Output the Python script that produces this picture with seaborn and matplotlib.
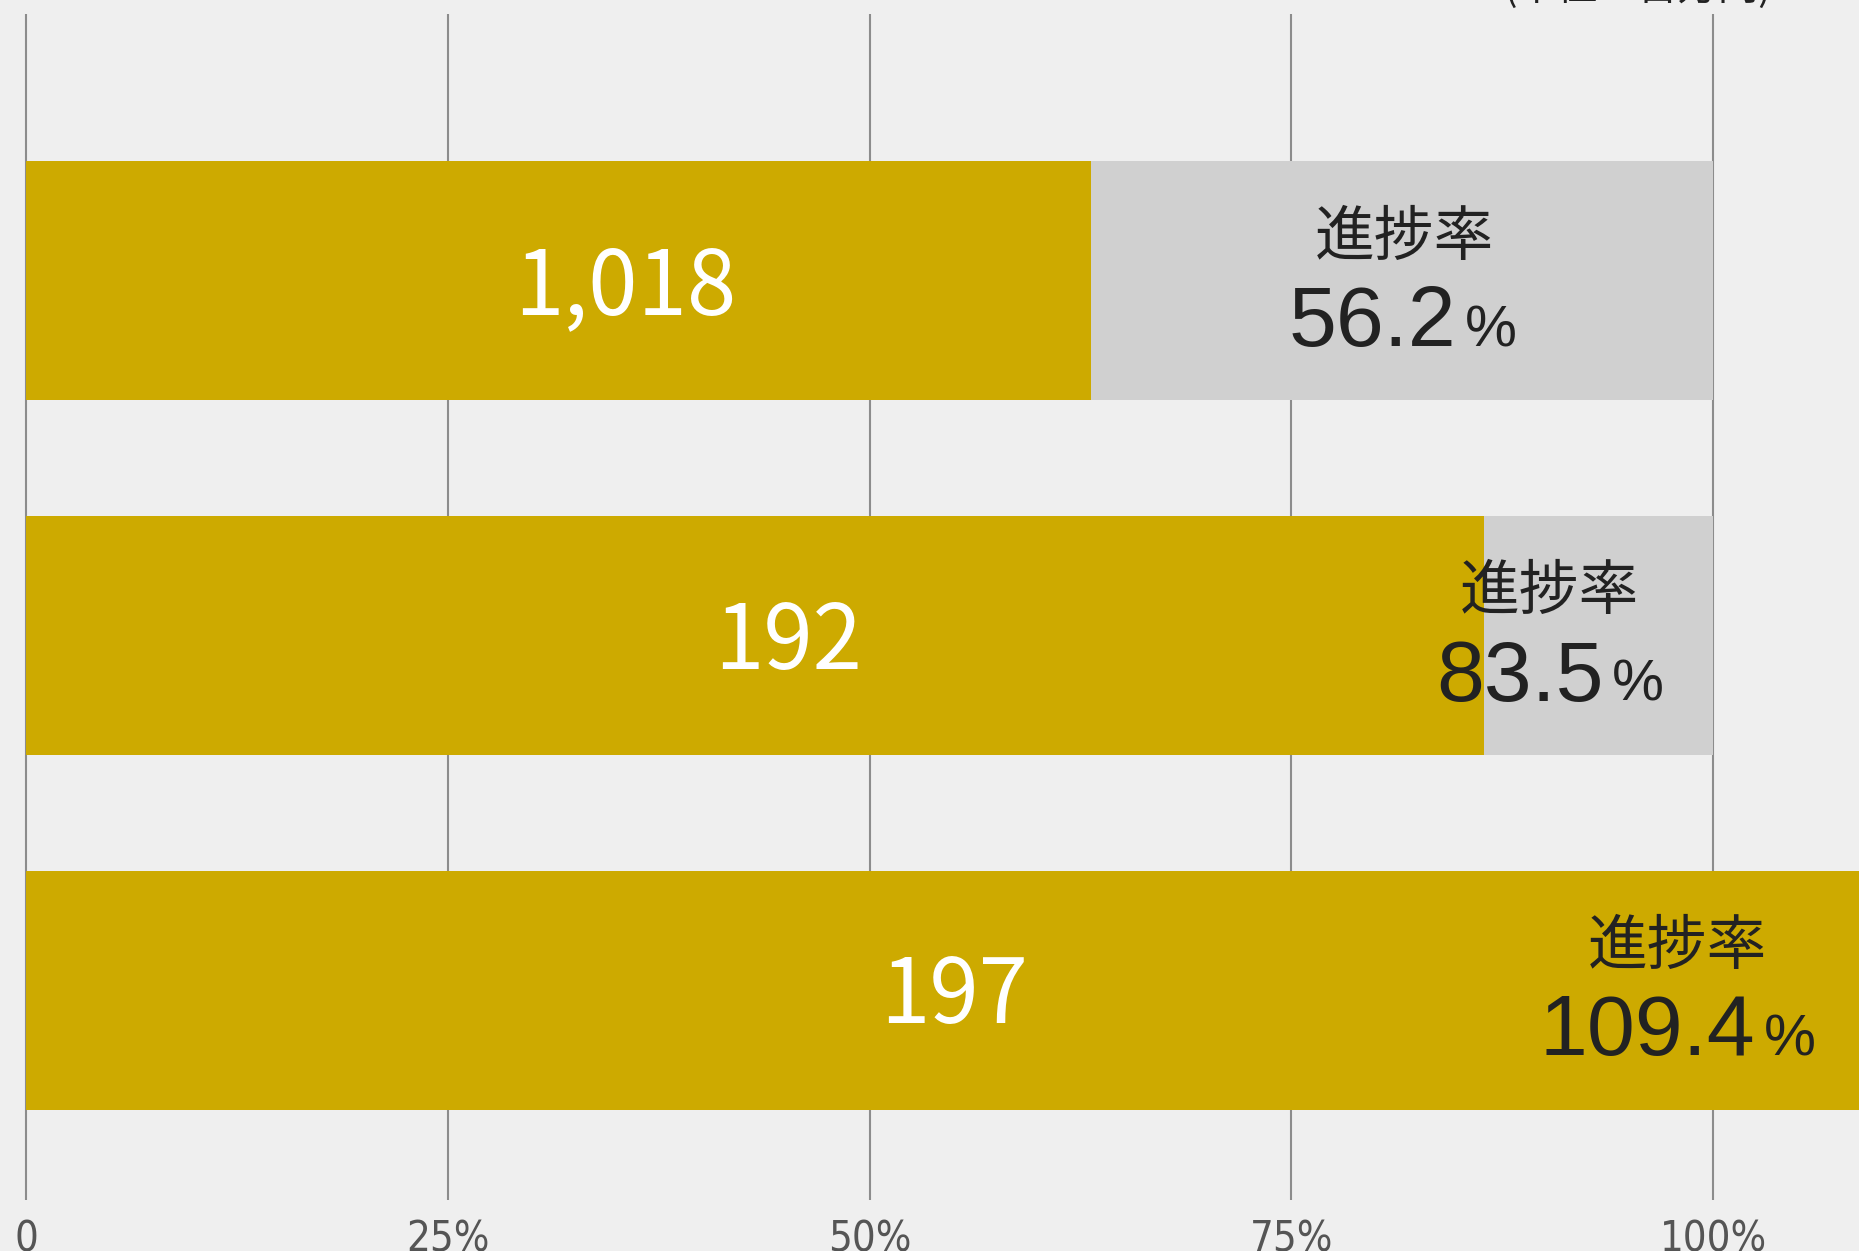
import matplotlib
matplotlib.use("Agg")
import matplotlib.pyplot as plt
import pandas as pd
import seaborn as sns

# data
items = ["A", "B", "C"]
amounts = [1018, 192, 197]            # 百万円, printed inside the gold bars
rates = [56.2, 83.5, 109.4]           # 進捗率 printed on the labels
bar_lengths = [63.1, 86.4, 109.4]     # drawn lengths of the gold bars (% of plan)
plan = [100, 100, 100]
ticks = [0, 25, 50, 75, 100]
tick_labels = ["0", "25%", "50%", "75%", "100%"]

df = pd.DataFrame({"item": items, "amount": amounts, "rate": rates,
                   "length": bar_lengths, "plan": plan})

GOLD = "#cdaa00"
GRAY = "#d0d0d0"
BG = "#efefef"
INK = "#222222"

plt.rcParams["font.family"] = ["Noto Sans CJK JP", "DejaVu Sans"]

fig = plt.figure(figsize=(18.59, 12.51), dpi=100, facecolor=BG)
ax = fig.add_axes([0, 1 - 1200 / 1251, 1, 1186 / 1251])
ax.set_facecolor(BG)

bw = 0.674
sns.barplot(data=df, x="plan", y="item", orient="h", color=GRAY,
            saturation=1, width=bw, ax=ax, zorder=2)
sns.barplot(data=df, x="length", y="item", orient="h", color=GOLD,
            saturation=1, width=bw, ax=ax, zorder=3)

ax.set_xlim(-1.54, 108.65)
ax.set_ylim(2.592, -0.753)
for t in ticks:
    ax.axvline(t, color="#8c8c8c", lw=1.5, zorder=1)

ax.set_xticks(ticks)
ax.set_xticklabels(tick_labels, family=["DejaVu Sans"], fontstretch="condensed",
                   fontsize=30, color="#555555")
ax.tick_params(axis="x", length=0, pad=13)
ax.tick_params(axis="y", left=False, labelleft=False)
ax.set_xlabel("")
ax.set_ylabel("")
for s in ax.spines.values():
    s.set_visible(False)

# label positions (x in axis %)
amount_x = [35.5, 45.2, 55.0]
rate_x = [81.7, 90.3, 97.9]
pct_x = [85.3, 94.0, 103.0]

num_font = ["Liberation Sans", "DejaVu Sans"]
for i, row in df.iterrows():
    ax.text(amount_x[i], i + 0.094, f"{row['amount']:,}", ha="center", va="baseline",
            color="white", fontsize=64, zorder=5)
    ax.text(rate_x[i], i - 0.121, "進捗率", ha="center", va="center",
            color=INK, fontsize=43, zorder=5)
    ax.text(pct_x[i] - 0.5, i + 0.184, f"{row['rate']:.1f}", ha="right", va="baseline",
            color=INK, fontsize=62, family=num_font, zorder=5)
    ax.text(pct_x[i], i + 0.184, "%", ha="left", va="baseline",
            color=INK, fontsize=42, family=num_font, zorder=5)

fig.text(1772 / 1859, 1.0, "(単位：百万円)", ha="right", va="baseline",
         fontsize=29, color=INK)

fig.savefig("out.png", dpi=100, facecolor=BG)
